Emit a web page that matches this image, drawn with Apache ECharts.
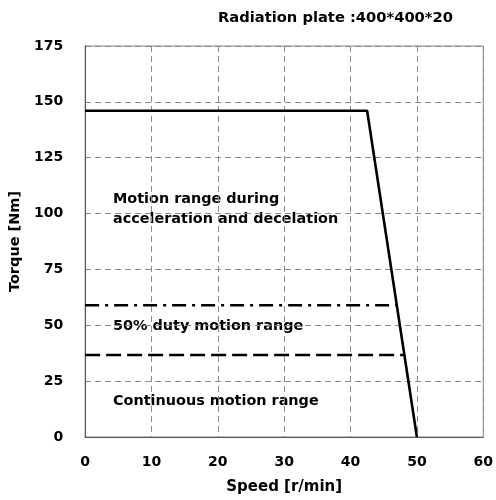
<!DOCTYPE html>
<html><head><meta charset="utf-8">
<script src="https://cdn.jsdelivr.net/npm/echarts@6/dist/echarts.min.js"></script>
<style>html,body{margin:0;padding:0;background:#fff}#c{width:496px;height:500px}</style>
</head><body><div id="c"></div>
<script>
const xTicks = [0, 10, 20, 30, 40, 50, 60];
const yTicks = [0, 25, 50, 75, 100, 125, 150, 175];
const peakCurve = [[0, 146], [42.5, 146], [50, 0]];
const dutyCurve = [[0, 59], [47, 59]];
const contCurve = [[0, 36.7], [48.1, 36.7]];
const titleText = 'Radiation plate :400*400*20';
const notes = [
  {text: 'Motion range during\nacceleration and decelation', left: 113, top: 189},
  {text: '50% duty motion range', left: 113, top: 316},
  {text: 'Continuous motion range', left: 113, top: 391}
];
const FONT = 'DejaVu Sans';
const chart = echarts.init(document.getElementById('c'));
const gridDash = {type: [6, 4], color: '#8a8a8a', width: 1};
chart.setOption({
  animation: false,
  backgroundColor: '#fff',
  title: {text: titleText, left: 218, top: 11, padding: 0,
    textStyle: {fontFamily: FONT, fontWeight: 'bold', fontSize: 14.7, color: '#000'}},
  grid: {left: 84, right: 9, top: 46, bottom: 63, show: true, borderColor: '#8a8a8a', borderWidth: 1},
  xAxis: {type: 'value', min: xTicks[0], max: xTicks[xTicks.length - 1], interval: 10,
    name: 'Speed [r/min]', nameLocation: 'middle', nameGap: 43,
    nameTextStyle: {fontFamily: FONT, fontWeight: 'bold', fontSize: 15, color: '#000'},
    axisLine: {show: true, lineStyle: {color: '#555', width: 1}},
    axisTick: {show: false},
    axisLabel: {margin: 18, fontFamily: FONT, fontWeight: 'bold', fontSize: 14, color: '#000'},
    splitLine: {show: true, lineStyle: gridDash}},
  yAxis: {type: 'value', min: yTicks[0], max: yTicks[yTicks.length - 1], interval: 25,
    name: 'Torque [Nm]', nameLocation: 'middle', nameGap: 60, nameRotate: 90,
    nameTextStyle: {fontFamily: FONT, fontWeight: 'bold', fontSize: 14.5, color: '#000'},
    axisLine: {show: true, lineStyle: {color: '#555', width: 1}},
    axisTick: {show: false},
    axisLabel: {margin: 22, fontFamily: FONT, fontWeight: 'bold', fontSize: 14, color: '#000'},
    splitLine: {show: true, lineStyle: gridDash}},
  series: [
    {type: 'line', data: peakCurve, symbol: 'none', lineStyle: {color: '#000', width: 2.6, type: 'solid'}},
    {type: 'line', data: dutyCurve, symbol: 'none', lineStyle: {color: '#000', width: 2.6, type: [14, 6, 3, 6]}},
    {type: 'line', data: contCurve, symbol: 'none', lineStyle: {color: '#000', width: 2.6, type: [15, 6]}}
  ],
  graphic: notes.map(n => ({type: 'text', left: n.left, top: n.top,
    style: {text: n.text, fontFamily: FONT, fontWeight: 'bold', fontSize: 14.4, fill: '#000', lineHeight: 20}}))
});
</script></body></html>
